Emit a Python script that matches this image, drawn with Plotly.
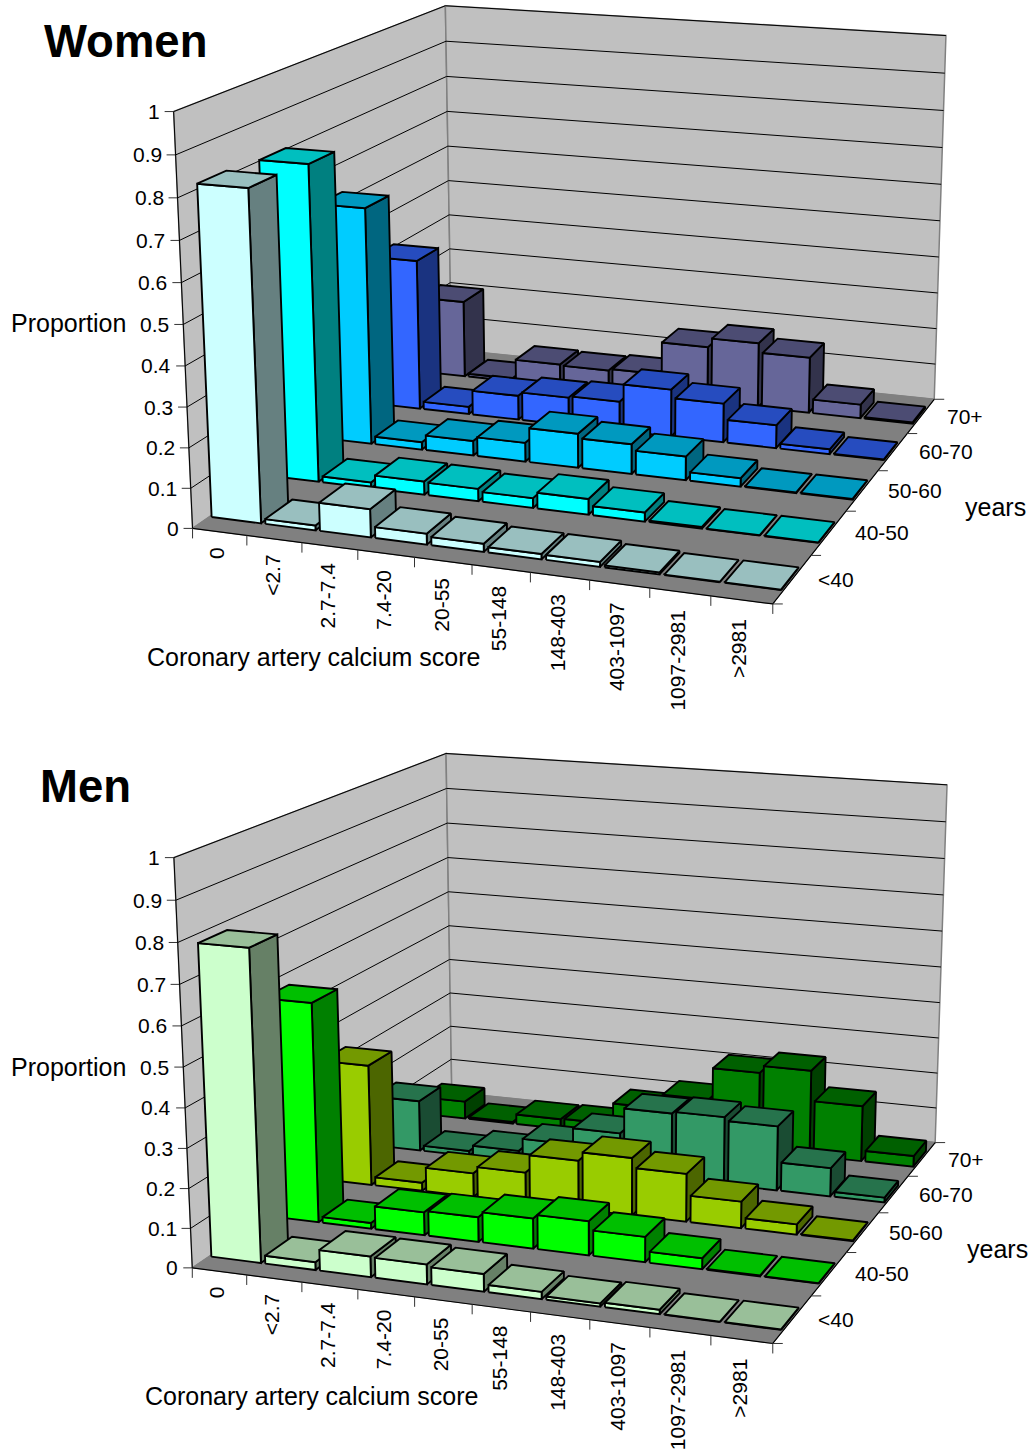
import numpy as np
import plotly.graph_objects as go

score_bins = ["0", "<2.7", "2.7-7.4", "7.4-20", "20-55", "55-148", "148-403", "403-1097", "1097-2981", ">2981"]
age_groups = ["<40", "40-50", "50-60", "60-70", "70+"]
z_ticks = [0, 0.1, 0.2, 0.3, 0.4, 0.5, 0.6, 0.7, 0.8, 0.9, 1]

women_u40 = [0.815, 0.012, 0.07, 0.027, 0.02, 0.013, 0.012, 0.005, 0.001, 0.001]
women_40s = [0.805, 0.015, 0.034, 0.032, 0.025, 0.04, 0.023, 0.004, 0.001, 0.001]
women_50s = [0.625, 0.02, 0.039, 0.05, 0.09, 0.078, 0.062, 0.022, 0.002, 0.002]
women_60s = [0.41, 0.02, 0.066, 0.076, 0.08, 0.128, 0.105, 0.062, 0.013, 0.002]
women_70p = [0.215, 0.008, 0.063, 0.06, 0.065, 0.155, 0.18, 0.154, 0.038, 0.004]

men_u40 = [0.78, 0.02, 0.052, 0.05, 0.044, 0.018, 0.008, 0.011, 0.001, 0.001]
men_40s = [0.57, 0.015, 0.06, 0.064, 0.078, 0.088, 0.065, 0.028, 0.002, 0.001]
men_50s = [0.325, 0.022, 0.064, 0.082, 0.13, 0.153, 0.127, 0.07, 0.027, 0.002]
men_60s = [0.14, 0.014, 0.03, 0.065, 0.11, 0.18, 0.185, 0.175, 0.077, 0.013]
men_70p = [0.05, 0.005, 0.028, 0.03, 0.09, 0.13, 0.22, 0.24, 0.155, 0.03]

women_rows = [women_u40, women_40s, women_50s, women_60s, women_70p]
men_rows = [men_u40, men_40s, men_50s, men_60s, men_70p]

women_rgb = [(204, 255, 255), (0, 255, 255), (0, 204, 255), (51, 102, 255), (102, 102, 153)]
men_rgb = [(204, 255, 204), (0, 255, 0), (153, 204, 0), (51, 153, 102), (0, 128, 0)]

GX, GY = 0.04, 0.27


def make_camera(corners):
    """Fit a 3x4 projective camera from the box corners (chart space -> page pixels)."""
    A = []
    for (X, Y, Z), (u, v) in corners:
        A.append([X, Y, Z, 1, 0, 0, 0, 0, -u * X, -u * Y, -u * Z])
        A.append([0, 0, 0, 0, X, Y, Z, 1, -v * X, -v * Y, -v * Z])
    b = [c for _, uv in corners for c in uv]
    p = np.linalg.lstsq(np.array(A, float), np.array(b, float), rcond=None)[0]
    P = np.append(p, 1).reshape(3, 4)

    def proj(X, Y, Z):
        h = P @ np.array([X, Y, Z, 1.0])
        return h[0] / h[2], h[1] / h[2]
    return proj


def shade(rgb, k):
    return "rgb(%d,%d,%d)" % tuple(round(c * k) for c in rgb)


fig = go.Figure()


def poly(points, fill, line="black", w=1.9):
    xs = [p[0] for p in points] + [points[0][0]]
    ys = [p[1] for p in points] + [points[0][1]]
    fig.add_trace(go.Scatter(x=xs, y=ys, mode="lines", fill="toself", fillcolor=fill,
                             line=dict(color=line, width=w), hoverinfo="skip", showlegend=False))


def path(points, color="black", w=1.0):
    fig.add_trace(go.Scatter(x=[p[0] for p in points], y=[p[1] for p in points], mode="lines",
                             line=dict(color=color, width=w), hoverinfo="skip", showlegend=False))


def text(x, y, s, size=21, angle=0, xa="center", ya="middle", bold=False):
    fig.add_annotation(x=x, y=y, text="<b>%s</b>" % s if bold else s, showarrow=False, textangle=angle,
                       xanchor=xa, yanchor=ya, font=dict(size=size, color="black", family="Liberation Sans"),
                       borderpad=0, borderwidth=0)


def panel(rows, rgb, corners, title, title_xy, prop_xy, xt_xy, years_xy):
    pr = make_camera(corners)
    # walls and floor
    poly([pr(0, 0, 0), pr(0, 5, 0), pr(0, 5, 1), pr(0, 0, 1)], "#c0c0c0", "#808080", 1.5)
    poly([pr(0, 5, 0), pr(10, 5, 0), pr(10, 5, 1), pr(0, 5, 1)], "#c0c0c0", "#808080", 1.5)
    poly([pr(0, 0, 0), pr(10, 0, 0), pr(10, 5, 0), pr(0, 5, 0)], "#808080", "#808080", 1)
    # gridlines and value axis
    for z in z_ticks:
        if z > 0:
            path([pr(0, 0, z), pr(0, 5, z), pr(10, 5, z)], "black", 1)
        x0, y0 = pr(0, 0, z)
        path([(x0 - 9, y0), (x0, y0)], "#333333", 1)
        text(x0 - 14, y0, "%g" % z, xa="right")
    path([pr(0, 0, 0), pr(0, 0, 1)], "black", 1)
    path([pr(0, 0, 0), pr(10, 0, 0), pr(10, 5, 0)], "black", 1.2)
    # ticks
    for i in range(11):
        x0, y0 = pr(i, 0, 0)
        path([(x0, y0), (x0, y0 + 10)], "#333333", 1)
    for j in range(6):
        x0, y0 = pr(10, j, 0)
        path([(x0, y0), (x0 + 10, y0)], "#333333", 1)
    # bars: back row first, left to right
    for j in range(4, -1, -1):
        for i in range(10):
            v = rows[j][i]
            a, b = i + GX, i + 1 - GX
            c, d = j + GY, j + 1 - GY
            poly([pr(b, c, 0), pr(b, d, 0), pr(b, d, v), pr(b, c, v)], shade(rgb[j], 0.5))
            poly([pr(a, c, 0), pr(b, c, 0), pr(b, c, v), pr(a, c, v)], shade(rgb[j], 1))
            poly([pr(a, c, v), pr(b, c, v), pr(b, d, v), pr(a, d, v)], shade(rgb[j], 0.75))
    # labels
    for i, s in enumerate(score_bins):
        x0, y0 = pr(i + 0.5, 0, 0)
        text(x0 - 2.5, y0 + 15 + 0.5 * i, s, angle=-90, ya="top")
    for j, s in enumerate(age_groups):
        x0, y0 = pr(10, j + 0.5, 0)
        text(x0 + 26, y0, s, xa="left")
    text(*title_xy, title, size=45.5, bold=True)
    text(*prop_xy, "Proportion", size=25)
    text(*xt_xy, "Coronary artery calcium score", size=25)
    text(*years_xy, "years", size=25)


panel(women_rows, women_rgb,
      [((0, 0, 0), (192, 527)), ((10, 0, 0), (773, 605)), ((0, 5, 0), (452, 351)), ((10, 5, 0), (934, 398)),
       ((0, 0, 1), (174, 112)), ((0, 5, 1), (445, 5)), ((10, 5, 1), (946, 36))],
      "Women", (125.5, 41), (68, 322.5), (313, 657), (995, 506.5))
panel(men_rows, men_rgb,
      [((0, 0, 0), (192, 1267)), ((10, 0, 0), (773, 1344)), ((0, 5, 0), (452, 1093)), ((10, 5, 0), (935, 1142)),
       ((0, 0, 1), (174, 858)), ((0, 5, 1), (446, 753)), ((10, 5, 1), (947, 785))],
      "Men", (85, 786), (68, 1066.5), (311, 1396), (997, 1248.5))

fig.update_layout(width=1030, height=1449, margin=dict(l=0, r=0, t=0, b=0), autosize=False,
                  paper_bgcolor="white", plot_bgcolor="white", showlegend=False,
                  xaxis=dict(range=[0, 1030], visible=False, fixedrange=True),
                  yaxis=dict(range=[1449, 0], visible=False, fixedrange=True))
fig.write_html("out.html", config={"displayModeBar": False},
               post_script="document.body.style.margin='0';document.body.style.overflow='hidden';")
